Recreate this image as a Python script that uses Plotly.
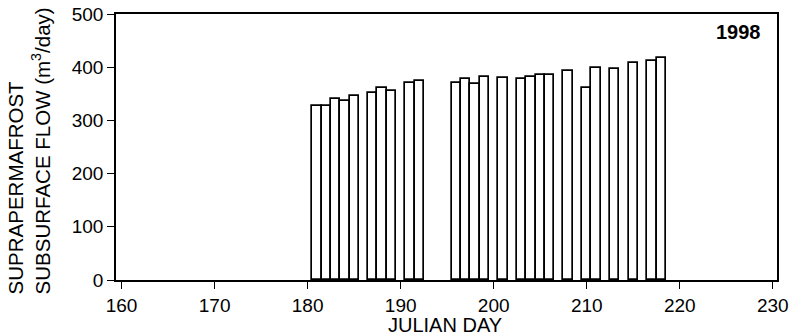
import plotly.graph_objects as go

# Daily suprapermafrost subsurface flow, 1998 season (m^3/day)
julian_day = [181, 182, 183, 184, 185, 187, 188, 189, 191, 192,
              196, 197, 198, 199, 201, 203, 204, 205, 206, 208,
              210, 211, 213, 215, 217, 218]
flow = [327, 327, 341, 337, 346, 352, 360, 355, 370, 375,
        371, 378, 369, 381, 380, 377, 381, 386, 386, 392,
        360, 398, 396, 407, 412, 418]

x_ticks = [160, 170, 180, 190, 200, 210, 220, 230]
y_ticks = [0, 100, 200, 300, 400, 500]
year_label = "1998"

FONT = "Liberation Sans, Arial, Helvetica, sans-serif"

fig = go.Figure()
fig.add_trace(go.Bar(
    x=julian_day,
    y=flow,
    width=1.0,
    marker=dict(color="white", line=dict(color="black", width=1.7)),
    showlegend=False,
))

fig.update_layout(
    template="none",
    width=791,
    height=336,
    margin=dict(l=116, r=14, t=14, b=56),
    paper_bgcolor="white",
    plot_bgcolor="white",
    font=dict(family=FONT, size=19, color="black"),
    bargap=0,
)

axis_style = dict(
    ticks="outside",
    ticklen=7,
    tickwidth=1.4,
    tickcolor="black",
    showline=True,
    linecolor="black",
    linewidth=1.5,
    mirror=True,
    showgrid=False,
    zeroline=False,
    automargin=False,
    tickfont=dict(family=FONT, size=19, color="black"),
)

fig.update_xaxes(
    range=[159.4, 230.45],
    tickvals=x_ticks,
    ticktext=[str(v) for v in x_ticks],
    **axis_style,
)
fig.update_yaxes(
    range=[0, 500],
    tickvals=y_ticks,
    **axis_style,
)

fig.add_annotation(
    text="JULIAN DAY",
    xref="paper", yref="paper",
    x=0.498, y=-0.169,
    xanchor="center", yanchor="middle",
    showarrow=False,
    font=dict(family=FONT, size=20, color="black"),
)

# Two-line y-axis title, lines aligned at the bottom of the axis
fig.add_annotation(
    text="SUPRAPERMAFROST<br>SUBSURFACE FLOW (m<sup>3</sup>/day)",
    xref="paper", yref="paper",
    x=-0.131, y=0.485,
    xanchor="center", yanchor="middle",
    textangle=-90,
    align="left",
    showarrow=False,
    font=dict(family=FONT, size=20.5, color="black"),
)

fig.add_annotation(
    text="<b>" + year_label + "</b>",
    xref="paper", yref="paper",
    x=0.979, y=0.934,
    xanchor="right", yanchor="middle",
    showarrow=False,
    font=dict(family=FONT, size=20, color="black"),
)

fig.write_html("out.html")
